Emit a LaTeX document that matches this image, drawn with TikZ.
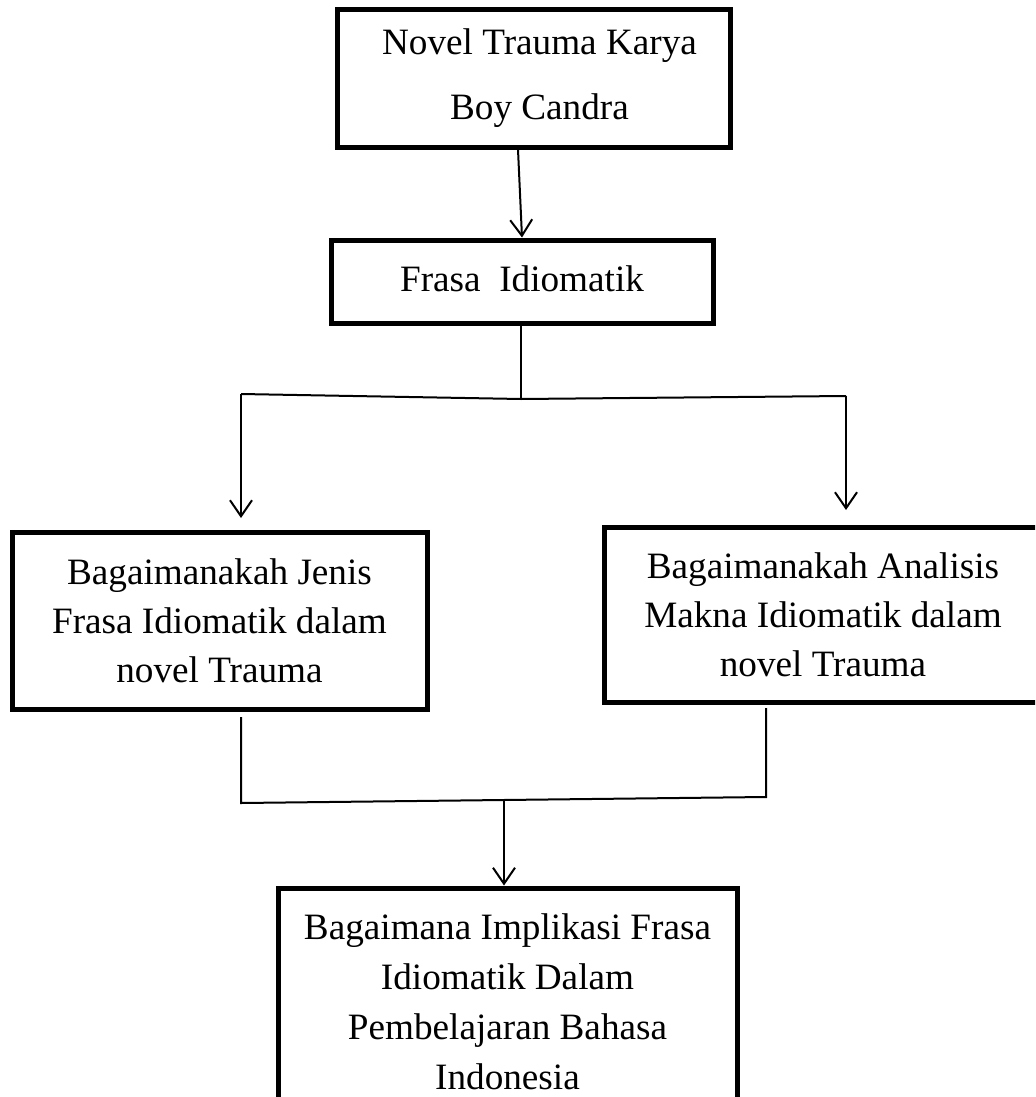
\documentclass[tikz,border=0pt]{standalone}
\usepackage{fontspec}
\setmainfont{Liberation Serif}
\usetikzlibrary{arrows.meta}
\tikzset{
  boxnode/.style={draw, line width=2.5pt, rectangle, inner sep=0pt, align=center},
  conn/.style={line width=1pt},
  arr/.style={conn, -{Straight Barb[length=8pt,width=11pt]}}
}
\begin{document}
\begin{tikzpicture}[x=0.5pt,y=-0.5pt]
\useasboundingbox (0,0) rectangle (1035,1097);
\clip (0,0) rectangle (1035,1097);

\node[boxnode, minimum width=196.5pt, minimum height=68.5pt,
      font=\fontsize{18.6pt}{32.5pt}\selectfont] (b1) at (533.5,78.5)
  {\hspace*{6pt}Novel Trauma Karya\\\hspace*{6pt}Boy Candra};
\node[boxnode, minimum width=191pt, minimum height=41.5pt,
      font=\fontsize{18.6pt}{24.5pt}\selectfont] (b2) at (522,281.5)
  {\raisebox{3pt}{Frasa\ \ Idiomatik}};
\node[boxnode, minimum width=207.5pt, minimum height=88.5pt,
      font=\fontsize{18.6pt}{24.5pt}\selectfont] (b3) at (219.5,621)
  {\raisebox{1.5pt}{\parbox{200pt}{\centering Bagaimanakah Jenis\\Frasa Idiomatik dalam\\novel Trauma}}};
\node[boxnode, minimum width=219pt, minimum height=87.5pt,
      font=\fontsize{18.6pt}{24.5pt}\selectfont] (b4) at (823,614.5)
  {Bagaimanakah Analisis\\Makna Idiomatik dalam\\novel Trauma};
\node[boxnode, minimum width=229.5pt, minimum height=113.5pt,
      font=\fontsize{18.6pt}{25pt}\selectfont] (b5) at (507.5,1001.5)
  {Bagaimana Implikasi Frasa\\Idiomatik Dalam\\Pembelajaran Bahasa\\Indonesia};

% top arrow
\draw[arr] ([xshift=-7.75pt]b1.south) -- (b2.north);

% split
\coordinate (J) at (521,399);
\coordinate (L) at (241,394);
\coordinate (R) at (846,396);
\coordinate (Lt) at (241,518);
\coordinate (Rt) at (846,510);
\draw[conn] ([xshift=-0.5pt]b2.south) -- (J);
\draw[conn] (L) -- (J) -- (R);
\draw[arr] (L) -- (Lt);
\draw[arr] (R) -- (Rt);

% merge
\coordinate (La) at (241,717);
\coordinate (Lb) at (241,803);
\coordinate (Ra) at (766,708);
\coordinate (Rb) at (766,797);
\coordinate (M) at (504,800);
\draw[conn] (La) -- (Lb) -- (Rb) -- (Ra);
\draw[arr] (M) -- ([xshift=-1.75pt]b5.north);
\end{tikzpicture}
\end{document}
